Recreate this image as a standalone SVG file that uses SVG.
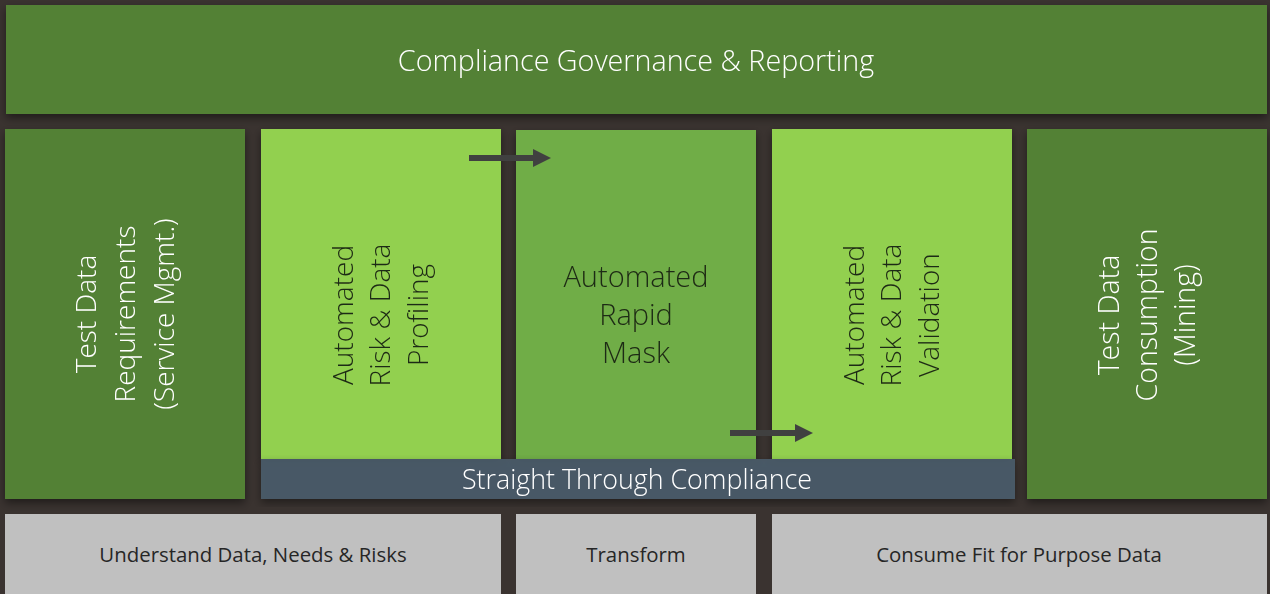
<svg xmlns="http://www.w3.org/2000/svg" width="1270" height="594" viewBox="0 0 1270 594">
<defs>
<filter id="sh" x="-5%" y="-10%" width="110%" height="130%">
<feDropShadow dx="0" dy="4" stdDeviation="4" flood-color="#000" flood-opacity="0.45"/>
</filter>
<marker id="ah" markerUnits="userSpaceOnUse" markerWidth="18" markerHeight="18" refX="0" refY="9" orient="auto">
<path d="M0,0 L18,9 L0,18 Z" fill="#404040"/>
</marker>
<style>
.t{font-family:"Open Sans","Noto Sans","Liberation Sans",sans-serif;font-weight:300;text-anchor:middle}
.w{fill:#ffffff}
.d{fill:#1e2a14}
.g{fill:#262626;font-weight:400}
.dg{fill:#538135}
.lg{fill:#92d050}
.mg{fill:#70ad47}
.gr{fill:#c0c0c0}
</style>
</defs>
<rect width="1270" height="594" fill="#3a3330"/>

<g id="top" filter="url(#sh)">
<rect class="dg" x="6" y="5" width="1261" height="109"/>
<text class="t w" x="636" y="71" font-size="28.7">Compliance Governance &amp; Reporting</text>
</g>

<g id="col1" filter="url(#sh)">
<rect class="dg" x="5" y="129" width="240" height="370"/>
<text class="t w" font-size="28" transform="translate(125,314) rotate(-90)"><tspan x="0" y="-29">Test Data</tspan><tspan x="0" y="10">Requirements</tspan><tspan x="0" y="49">(Service Mgmt.)</tspan></text>
</g>

<g id="col2" filter="url(#sh)">
<rect class="lg" x="261" y="129" width="240" height="330"/>
<text class="t d" font-size="28" transform="translate(381,315) rotate(-90)"><tspan x="0" y="-28">Automated</tspan><tspan x="0" y="9">Risk &amp; Data</tspan><tspan x="0" y="47">Profiling</tspan></text>
</g>

<g id="col3" filter="url(#sh)">
<rect class="mg" x="516" y="130" width="240" height="329"/>
<text class="t d" font-size="29"><tspan x="636" y="287">Automated</tspan><tspan x="636" y="325">Rapid</tspan><tspan x="636" y="363">Mask</tspan></text>
</g>

<g id="col4" filter="url(#sh)">
<rect class="lg" x="772" y="129" width="240" height="330"/>
<text class="t d" font-size="28" transform="translate(892,315) rotate(-90)"><tspan x="0" y="-28">Automated</tspan><tspan x="0" y="9">Risk &amp; Data</tspan><tspan x="0" y="47">Validation</tspan></text>
</g>

<g id="col5" filter="url(#sh)">
<rect class="dg" x="1027" y="129" width="240" height="370"/>
<text class="t w" font-size="28.5" transform="translate(1147,315) rotate(-90)"><tspan x="0" y="-28">Test Data</tspan><tspan x="0" y="10">Consumption</tspan><tspan x="0" y="48">(Mining)</tspan></text>
</g>

<g id="stc" filter="url(#sh)">
<rect x="261" y="459" width="754" height="40" fill="#4a5c6b" fill-opacity="0.9"/>
<text class="t w" x="637" y="489" font-size="26.8">Straight Through Compliance</text>
</g>

<g id="b1">
<rect class="gr" x="5" y="514" width="496" height="80"/>
<text class="t g" x="253" y="562" font-size="20.4">Understand Data, Needs &amp; Risks</text>
</g>
<g id="b2">
<rect class="gr" x="516" y="514" width="240" height="80"/>
<text class="t g" x="636" y="562" font-size="20.4">Transform</text>
</g>
<g id="b3">
<rect class="gr" x="772" y="514" width="495" height="80"/>
<text class="t g" x="1019" y="562" font-size="20.4">Consume Fit for Purpose Data</text>
</g>

<g id="connectors" stroke="#404040" stroke-width="6" fill="none">
<line x1="469" y1="158" x2="533" y2="158" marker-end="url(#ah)"/>
<line x1="730" y1="433" x2="795" y2="433" marker-end="url(#ah)"/>
</g>
</svg>
